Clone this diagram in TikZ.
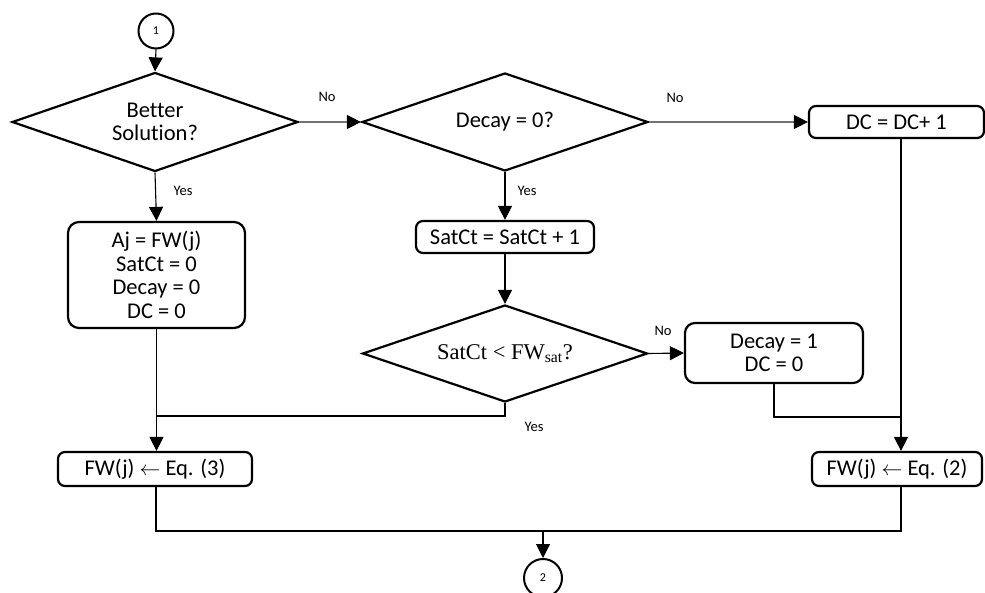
\documentclass[tikz,border=0pt]{standalone}
\usepackage{fontspec}
\setmainfont[Ligatures={NoCommon}]{Carlito}
\newfontfamily\serifx{Liberation Serif}
\usetikzlibrary{shapes.geometric,arrows.meta,calc}
\begin{document}
\begin{tikzpicture}[x=1pt,y=-1pt,
  every node/.style={font=\fontsize{22.5}{23.5}\selectfont},
  boxst/.style={draw,line width=2.2pt,rounded corners=7pt,inner sep=0pt,align=center},
  dia/.style={draw,diamond,line width=2.2pt,inner sep=0pt,aspect=2.9},
  conn/.style={line width=1.1pt},
  gconn/.style={line width=1.1pt,draw=black!55},
  arr/.style={-{Triangle[length=14pt,width=14pt,color=black]}},
  lbl/.style={font=\fontsize{14.5}{15}\selectfont},
  term/.style={draw,circle,line width=2pt,minimum size=35pt,inner sep=0pt,font=\fontsize{12}{13}\selectfont}
]
\useasboundingbox (0,0) rectangle (985,593);
% nodes
\node[term] (c1) at (156,31) {1};
\node[dia,minimum width=286pt,minimum height=99pt,align=center] (d1) at (155,122) {Better\\Solution?};
\node[dia,minimum width=286pt,minimum height=98pt] (d2) at (505,122) {Decay = 0?};
\node[boxst,minimum width=175pt,minimum height=32pt] (dc) at (896.5,122) {DC = DC+ 1};
\node[boxst,minimum width=177pt,minimum height=106pt,rounded corners=11pt] (aj) at (156.5,275) {Aj = FW(j)\\SatCt = 0\\Decay = 0\\DC = 0};
\node[boxst,minimum width=178pt,minimum height=32pt] (sat) at (505,237) {SatCt = SatCt + 1};
\node[dia,minimum width=285pt,minimum height=97pt] (d3) at (505,353.5) {\serifx SatCt < FW\textsubscript{sat}?};
\node[boxst,minimum width=178pt,minimum height=60pt,rounded corners=10pt] (dec) at (774,353) {Decay = 1\\DC = 0};
\node[boxst,minimum width=194pt,minimum height=34pt] (fw3) at (155,469) {FW(j) $\leftarrow$ Eq. (3)};
\node[boxst,minimum width=170pt,minimum height=34pt] (fw2) at (897,469) {FW(j) $\leftarrow$ Eq. (2)};
\node[term,minimum size=38pt] (c2) at (543,578) {2};
% helper coordinates
\coordinate (rx) at (901,0);
\coordinate (j2) at (901,417);
\coordinate (jl) at (156,416);
\coordinate (bot) at (543,531);
% labels
\node[lbl] (no1) at (327,97) {No};
\node[lbl] (no2) at (675,98) {No};
\node[lbl] (no3) at (663,331) {No};
\node[lbl] (yes1) at (183,191) {Yes};
\node[lbl] (yes2) at (527,191) {Yes};
\node[lbl] (yes3) at (534,427) {Yes};
% connectors
\draw[conn,arr] (c1.south) -- (d1.north);
\draw[gconn,arr] (d1.east) -- (d2.west);
\draw[gconn,arr] (d2.east) -- (dc.west);
\draw[conn,arr] (d1.south) -- (aj.north);
\draw[conn,arr] (d2.south) -- (sat.north);
\draw[conn,arr] (sat.south) -- (d3.north);
\draw[conn,arr] (d3.east) -- (dec.west);
\draw[conn,arr] (dc.south -| rx) -- (fw2.north -| rx);
\draw[conn] (dec.south) -- (dec.south |- j2) -- (j2);
\draw[conn] (d3.south) -- (d3.south |- jl) -- (jl);
\draw[conn,arr] (aj.south) -- (aj.south |- fw3.north);
\draw[conn] (fw3.south -| jl) -- (jl |- bot) -- (bot -| rx) -- (fw2.south -| rx);
\draw[conn,arr] (bot) -- (c2.north);
\end{tikzpicture}
\end{document}
